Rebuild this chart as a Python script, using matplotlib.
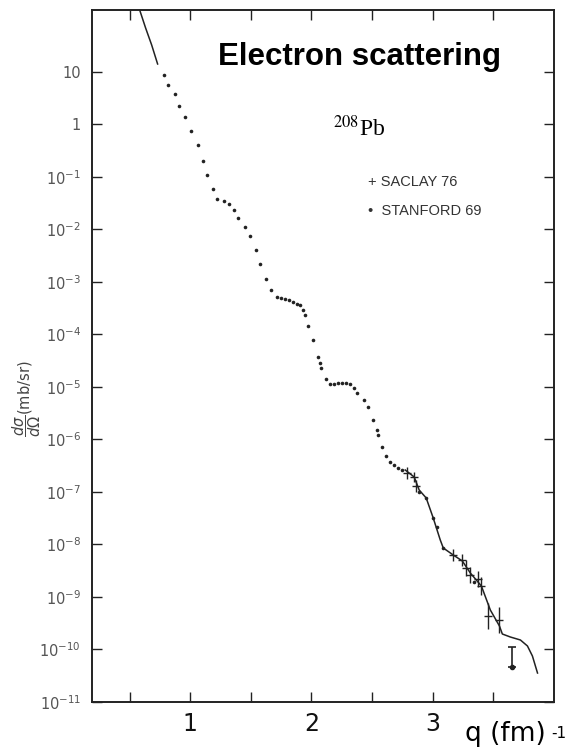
import numpy as np
from matplotlib import pyplot as plt

# Stanford 69 points (q in fm^-1, log10 of cross section)
stanford_q = [0.781, 0.814, 0.872, 0.905, 0.955, 1.004, 1.062, 1.103, 1.136, 1.186,
              1.219, 1.277, 1.318, 1.360, 1.393, 1.450, 1.492, 1.541, 1.574, 1.624,
              1.665, 1.715, 1.748, 1.781, 1.814, 1.847, 1.880, 1.905, 1.930, 1.946,
              1.971, 2.012, 2.054, 2.070, 2.079, 2.120, 2.153, 2.186, 2.219, 2.252,
              2.285, 2.318, 2.351, 2.376, 2.434, 2.467, 2.508, 2.541, 2.550, 2.583,
              2.616, 2.649, 2.682, 2.715, 2.748, 2.888, 2.946, 3.004, 3.037, 3.087,
              3.343]
stanford_log = [0.943, 0.752, 0.581, 0.352, 0.143, -0.124, -0.390, -0.695, -0.962, -1.229,
                -1.419, -1.457, -1.514, -1.629, -1.781, -1.952, -2.124, -2.390, -2.657, -2.943,
                -3.152, -3.286, -3.305, -3.324, -3.343, -3.381, -3.419, -3.438, -3.533, -3.629,
                -3.838, -4.105, -4.429, -4.543, -4.638, -4.848, -4.943, -4.943, -4.924, -4.924,
                -4.924, -4.943, -5.019, -5.114, -5.248, -5.381, -5.629, -5.819, -5.914, -6.143,
                -6.314, -6.429, -6.486, -6.543, -6.581, -7.000, -7.114, -7.495, -7.667, -8.067,
                -8.714]

# Saclay 76 points
saclay_q = [2.789, 2.847, 2.864, 3.169, 3.244, 3.277, 3.310, 3.376, 3.401, 3.459, 3.550]
saclay_log = [-6.638, -6.714, -6.886, -8.200, -8.295, -8.448, -8.581, -8.660, -8.790, -9.362, -9.438]
saclay_err = [0.12, 0.10, 0.12, 0.12, 0.12, 0.15, 0.15, 0.15, 0.18, 0.25, 0.25]

# point with long error bar
bar_q = 3.657
bar_log = -10.333
bar_up = 0.38

# theory curve, two visible pieces
theory_top_q = [0.566, 0.583, 0.632, 0.682, 0.731]
theory_top_log = [2.33, 2.181, 1.838, 1.514, 1.152]
theory_q = [2.773, 2.847, 2.888, 2.946, 3.004, 3.062, 3.087, 3.169, 3.244, 3.310,
            3.401, 3.475, 3.550, 3.574, 3.640, 3.723, 3.781, 3.822, 3.864]
theory_log = [-6.581, -6.714, -6.962, -7.114, -7.495, -7.914, -8.067, -8.200, -8.314, -8.543,
              -8.790, -9.248, -9.552, -9.705, -9.762, -9.819, -9.933, -10.124, -10.448]

ytick_exp = list(range(-11, 2))


def lab(e):
    if e == 1:
        return '10'
    if e == 0:
        return '1'
    return r'$\mathregular{10^{%d}}$' % e


fig = plt.figure(figsize=(5.67, 7.49), dpi=100)
ax = fig.add_axes([92 / 567, 1 - 702 / 749, 462 / 567, 692 / 749])

ink = '#222222'
ax.plot(theory_top_q, 10 ** np.array(theory_top_log), color=ink, lw=1.1)
ax.plot(theory_q, 10 ** np.array(theory_log), color=ink, lw=1.1)
ax.plot(stanford_q, 10 ** np.array(stanford_log), 'o', color=ink, ms=2.6, mew=0)
s_y = 10 ** np.array(saclay_log)
s_err = [s_y - 10 ** (np.array(saclay_log) - np.array(saclay_err)),
         10 ** (np.array(saclay_log) + np.array(saclay_err)) - s_y]
ax.errorbar(saclay_q, s_y, yerr=s_err, fmt='_', color=ink, ms=6, mew=1, elinewidth=1, capsize=0)
b_y = 10 ** bar_log
ax.errorbar([bar_q], [b_y], yerr=[[0], [10 ** (bar_log + bar_up) - b_y]], fmt='o', color=ink,
            ms=3, elinewidth=1.2, capsize=3, capthick=1.2)

ax.set_yscale('log')
ax.set_xlim(0.19, 4.0)
ax.set_ylim(1e-11, 10 ** 2.18)
ax.set_xticks([0.5, 1, 1.5, 2, 2.5, 3, 3.5])
ax.set_xticklabels(['', '1', '', '2', '', '3', ''])
ax.set_yticks([10.0 ** e for e in ytick_exp])
ax.set_yticklabels([lab(e) for e in ytick_exp])
ax.minorticks_off()
ax.tick_params(direction='in', length=7, width=1, top=True, right=True, color=ink)
ax.tick_params(axis='x', labelsize=17, pad=7, labelcolor='#111111')
ax.tick_params(axis='y', labelsize=10.5, pad=8, labelcolor='#555555')
for s in ax.spines.values():
    s.set_linewidth(1.4)
    s.set_color(ink)

fig.text(360 / 567, 1 - 57 / 749, 'Electron scattering', fontsize=22.5, fontweight='bold',
         family='Liberation Sans', ha='center', va='center')
fig.text(333 / 567, 1 - 128 / 749, r'$^{208}$Pb', fontsize=17, family='Liberation Serif',
         math_fontfamily='stix', ha='left', va='center')
fig.text(368 / 567, 1 - 182 / 749, '+ SACLAY 76', fontsize=10.5, color='#333333',
         family='Liberation Sans', ha='left', va='center')
fig.text(368 / 567, 1 - 211 / 749, '•  STANFORD 69', fontsize=10.5, color='#333333',
         family='Liberation Sans', ha='left', va='center')
fig.text(27 / 567, 1 - 399 / 749, r'$\dfrac{d\sigma}{d\Omega}$(mb/sr)', fontsize=10.5,
         color='#444444', rotation=90, ha='center', va='center')
fig.text(465 / 567, 1 - 734 / 749, 'q (fm)', fontsize=19, family='DejaVu Sans',
         ha='left', va='center')
fig.text(551 / 567, 1 - 733 / 749, '-1', fontsize=11, family='DejaVu Sans',
         ha='left', va='center')

fig.savefig('out.png', dpi=100)
